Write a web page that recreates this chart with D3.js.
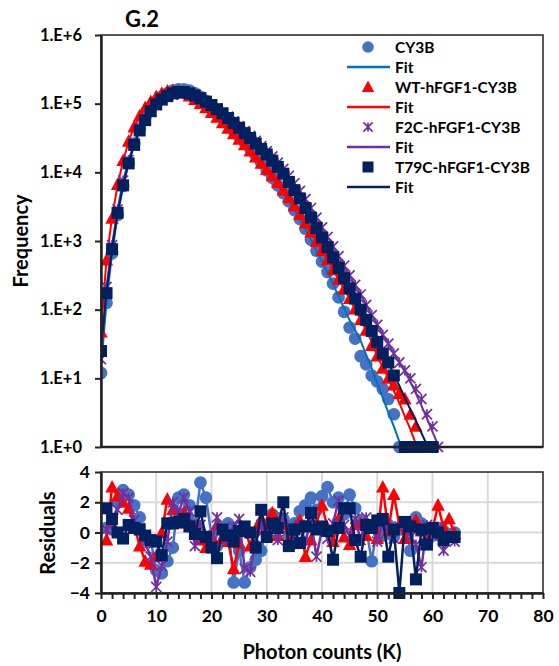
<!DOCTYPE html>
<html>
<head>
<meta charset="utf-8">
<script src="https://cdn.jsdelivr.net/npm/d3@7"></script>
<style>
  body { margin: 0; background: #fff; }
  svg text { font-family: Lato, "Open Sans", sans-serif; font-weight: bold; fill: #000; }
</style>
</head>
<body>
<svg id="chart" width="559" height="666"></svg>
<script>
// histogram counts, one value per 1K photon bin starting at 0
const cy3b = [12,126,661,2400,6310,13800,26300,43650,63100,85100,107200,125900,141300,154900,162200,162200,154900,141300,125900,109600,89100,75900,63100,51300,41700,33900,27500,22400,17800,13800,10700,8320,6460,5010,3800,2820,2090,1510,1050,724,501,355,240,151,93,55,38,21,16,11,9,7,5,3,1];
const wt = [47,525,2140,6610,14790,28180,45710,66070,87100,107200,125900,141300,151400,154900,151400,141300,128800,114800,100000,87100,74130,63100,52480,43650,36310,30200,25120,20420,16600,13490,10960,8910,7080,5500,4270,3240,2450,1820,1350,977,724,525,380,275,200,145,102,71,50,30,21,14,10,8,6,5,3,2];
const f2c = [19,214,871,2880,7590,15100,26900,41700,58900,77600,95500,112200,125900,134900,141300,141300,138000,128800,120200,107200,95500,85100,74100,64600,55000,46800,39800,33900,28800,24000,20400,17000,13800,11200,8910,6920,5370,4070,3020,2190,1580,1150,832,603,437,316,229,166,117,83,60,43,32,23,17,13,10,7,5,3,2,1];
const t79c = [25,174,760,2570,6460,13500,25100,40700,57500,77600,97700,114800,128800,141300,147900,147900,141300,131800,120200,107200,95500,83200,72400,61700,52500,44700,37200,31600,26300,21900,18200,14800,12000,9550,7240,5500,4170,3020,2190,1550,1120,813,575,407,288,204,145,100,71,49,34,23,17,11,0,1,1,1,1,1,1];

// fitted curves
const fitCy3b = [14,130,650,2350,6300,13800,26000,43000,63000,85000,106000,125000,141000,153000,160000,160000,154000,142000,126000,109000,90000,76000,63000,51500,41800,34000,27500,22300,17800,13900,10700,8300,6450,5000,3800,2820,2080,1510,1060,730,500,345,235,155,105,70,50,35,22,14,8.5,5.2,3.2,2.0,1.2,0.76,0.47];
const fitWt = [50,540,2200,6500,14800,28000,45700,66000,87000,107000,125000,141000,151000,155000,151000,141000,129000,115000,100000,87000,74000,63000,52500,43600,36300,30200,25100,20400,16600,13500,11000,8900,7100,5500,4300,3250,2450,1820,1350,980,720,525,380,275,200,143,102,72,50,34,21,14.5,10,6.6,4.4,2.8,1.8,1.1,0.7,0.45];
const fitF2c = [20,220,880,2900,7500,15000,26900,41700,58900,77600,95500,112200,125900,134900,141300,141300,138000,128800,120200,107200,95500,85100,74100,64600,55000,46800,39800,33900,28800,24000,20400,17000,13800,11200,8910,6920,5370,4070,3020,2190,1580,1150,832,603,437,316,229,166,117,83,60,43,32,23,17,12.5,8.9,6.0,4.0,2.6,1.66,1.07,0.68];
const fitT79c = [27,180,770,2550,6400,13500,25000,40700,57500,77600,97700,114800,128800,141300,147900,147900,141300,131800,120200,107200,95500,83200,72400,61700,52500,44700,37200,31600,26300,21900,18200,14800,12000,9550,7240,5500,4170,3020,2190,1550,1120,813,575,407,288,204,145,100,71,49,34,24,17,11.5,7.8,5.2,3.5,2.4,1.6,1.07,0.7,0.47];

// residuals, bins 1..64
const resCy3b = [0.3,0.2,2.0,2.8,2.5,1.8,1.0,-0.4,-0.5,-2.5,-2.7,-1.9,-1.0,2.3,2.5,1.8,0.5,3.3,2.3,-0.2,-0.9,0.2,0.6,-3.3,-1.2,-3.3,-2.3,-1.8,-1.2,0.5,1.2,0.5,0.9,-0.3,0.6,1.4,1.8,2.3,1.5,2.4,3.0,2.0,2.3,1.2,2.5,1.6,0.8,0.3,-1.9,0.4,-0.2,0.5,-0.3,0.2,0.6,-1.2,1.0,0.6,0.2,-0.2,0.3,0.1,-0.1,0.0];
const resWt = [-0.5,3.0,2.4,2.0,1.6,0.5,-0.9,-1.9,-2.1,-1.6,0.0,2.2,1.5,0.6,1.3,0.7,0.4,-0.5,-1.0,-0.3,0.5,-0.4,-0.6,-2.4,-0.7,0.3,-0.9,0.2,0.9,0.4,1.3,-0.2,0.6,-0.5,0.3,0.8,-1.6,-0.5,0.6,1.8,0.3,-0.6,0.9,-0.3,-0.8,0.5,0.6,-0.2,0.3,-0.4,3.0,0.1,2.5,0.5,-0.4,0.6,0.8,0.1,-0.3,0.2,1.8,0.3,0.9,-0.1];
const resF2c = [0.2,0.5,1.5,2.6,2.3,0.8,0.3,-0.7,-1.6,-3.6,-2.2,-0.6,2.0,1.3,2.3,1.4,-0.9,0.5,-0.2,-0.6,1.0,0.2,-0.5,0.4,0.9,-2.4,-2.6,-0.4,0.5,-0.2,0.4,-0.5,1.0,0.3,-0.3,0.5,-0.6,0.8,-1.6,0.2,-0.4,0.6,2.1,0.5,-0.2,0.9,-0.5,1.0,0.3,-0.6,0.6,0.2,-0.4,0.4,0.7,-0.3,-0.8,-2.3,0.5,-0.2,0.3,-1.2,-0.4,-0.6];
const resT79c = [1.6,0.9,0.0,-0.4,0.5,0.3,0.2,-0.2,-0.5,-0.6,-1.5,0.6,0.6,0.7,0.9,0.4,-0.1,1.4,-0.3,-1.0,-1.7,0.2,-0.2,-0.6,0.1,0.4,0.0,-1.0,1.5,-0.3,0.6,0.3,2.0,-0.9,0.2,-0.7,0.4,1.3,0.2,0.4,0.1,-1.8,0.3,1.6,1.6,-0.5,-1.6,0.5,0.3,0.8,0.9,-1.6,0.2,-4.0,0.7,0.4,-3.1,0.2,-0.8,0.3,0.0,-0.5,-0.3,-0.3];

const xTicks = [0, 10, 20, 30, 40, 50, 60, 70, 80];
const freqTicks = [1, 1e1, 1e2, 1e3, 1e4, 1e5, 1e6];
const resTicks = [-4, -2, 0, 2, 4];

const series = [
  { name: 'CY3B', data: cy3b, fit: fitCy3b, res: resCy3b, color: '#4472C4', fitColor: '#0070C0', shape: 'circle' },
  { name: 'WT-hFGF1-CY3B', data: wt, fit: fitWt, res: resWt, color: '#FF0000', fitColor: '#FF0000', shape: 'triangle' },
  { name: 'F2C-hFGF1-CY3B', data: f2c, fit: fitF2c, res: resF2c, color: '#7030A0', fitColor: '#7030A0', shape: 'star' },
  { name: 'T79C-hFGF1-CY3B', data: t79c, fit: fitT79c, res: resT79c, color: '#002060', fitColor: '#002060', shape: 'square' },
];

const svg = d3.select('#chart');
const left = 101, right = 543;
const msize = 12;

let x = d3.scaleLinear().domain([0, 80]).range([left, right]);
let y = d3.scaleLog().domain([1, 1e6]).range([447, 35]);
let yr = d3.scaleLinear().domain([-4, 4]).range([593, 472]);

// marker drawing
function marker(g, shape, color, s) {
  if (shape === 'circle') {
    g.append('circle').attr('r', s * 0.53).attr('fill', color);
  } else if (shape === 'triangle') {
    g.append('path').attr('d', `M0,${-s * 0.6}L${s * 0.56},${s * 0.45}L${-s * 0.56},${s * 0.45}Z`).attr('fill', color);
  } else if (shape === 'square') {
    g.append('rect').attr('x', -s / 2).attr('y', -s / 2).attr('width', s).attr('height', s).attr('fill', color);
  } else {
    let r = s * 0.42;
    g.append('path')
      .attr('d', `M${-r},${-r}L${r},${r}M${-r},${r}L${r},${-r}M0,${-r}L0,${r}`)
      .attr('stroke', color).attr('stroke-width', 1.7).attr('fill', 'none');
  }
}

// clip for top panel
svg.append('defs').append('clipPath').attr('id', 'topclip')
  .append('rect').attr('x', left).attr('y', 30).attr('width', right - left).attr('height', 447 - 30);

/* ******* top panel ******* */
let topPanel = svg.append('g');
topPanel.append('rect').attr('x', left).attr('y', 35).attr('width', right - left).attr('height', 412)
  .attr('fill', 'none').attr('stroke', '#222').attr('stroke-width', 1.5);

let line = d3.line().x((d, i) => x(i)).y(d => y(d));
let body = topPanel.append('g').attr('clip-path', 'url(#topclip)');
series.forEach(s => {
  let pts = s.data.map((v, i) => [i, v]).filter(d => d[1] > 1);
  body.append('g').selectAll('g').data(pts).enter().append('g')
    .attr('transform', d => `translate(${x(d[0])},${y(d[1])})`)
    .each(function () { marker(d3.select(this), s.shape, s.color, msize); });
  body.append('path').datum(s.fit).attr('d', line)
    .attr('fill', 'none').attr('stroke', s.fitColor).attr('stroke-width', 2);
  // points sitting on the axis are drawn unclipped
  let onAxis = s.data.map((v, i) => [i, v]).filter(d => d[1] === 1);
  topPanel.append('g').selectAll('g').data(onAxis).enter().append('g')
    .attr('transform', d => `translate(${x(d[0])},${y(d[1])})`)
    .each(function () { marker(d3.select(this), s.shape, s.color, msize); });
});

let axisY = d3.axisLeft(y).tickValues(freqTicks).tickSizeInner(6).tickSizeOuter(0)
  .tickFormat(d => '1.E+' + Math.round(Math.log10(d)));
topPanel.append('g').attr('transform', `translate(${left},0)`).call(axisY)
  .call(g => g.select('.domain').attr('stroke', '#222').attr('stroke-width', 2.5))
  .call(g => g.selectAll('.tick line').attr('stroke', '#222').attr('stroke-width', 2))
  .call(g => g.selectAll('.tick text').attr('x', -19).attr('font-size', 16.5).attr('fill', '#000')
    .style('font-family', 'Lato').style('font-weight', 'bold'));
topPanel.append('line').attr('x1', left).attr('x2', right).attr('y1', 447).attr('y2', 447)
  .attr('stroke', '#222').attr('stroke-width', 2.5);

/* ******* residual panel ******* */
let bot = svg.append('g');
bot.append('g').selectAll('line.gy').data([-2, 0, 2]).enter().append('line')
  .attr('x1', left).attr('x2', right).attr('y1', d => yr(d)).attr('y2', d => yr(d))
  .attr('stroke', '#d9d9d9').attr('stroke-width', 2);
bot.append('g').selectAll('line.gx').data(xTicks.slice(1, -1)).enter().append('line')
  .attr('x1', d => x(d)).attr('x2', d => x(d)).attr('y1', 472).attr('y2', 593)
  .attr('stroke', '#d9d9d9').attr('stroke-width', 2);
bot.append('rect').attr('x', left).attr('y', 472).attr('width', right - left).attr('height', 121)
  .attr('fill', 'none').attr('stroke', '#222').attr('stroke-width', 1.5);

let rline = d3.line().x((d, i) => x(i + 1)).y(d => yr(d));
series.forEach(s => {
  bot.append('path').datum(s.res).attr('d', rline)
    .attr('fill', 'none').attr('stroke', s.color).attr('stroke-width', 2.5);
  bot.append('g').selectAll('g').data(s.res).enter().append('g')
    .attr('transform', (d, i) => `translate(${x(i + 1)},${yr(d)})`)
    .each(function () { marker(d3.select(this), s.shape, s.color, msize); });
});

let axisR = d3.axisLeft(yr).tickValues(resTicks).tickSizeInner(6).tickSizeOuter(0);
bot.append('g').attr('transform', `translate(${left},0)`).call(axisR)
  .call(g => g.select('.domain').attr('stroke', '#222').attr('stroke-width', 2.5))
  .call(g => g.selectAll('.tick line').attr('stroke', '#222').attr('stroke-width', 2))
  .call(g => g.selectAll('.tick text').attr('x', -11).attr('font-size', 17.5).attr('fill', '#000')
    .style('font-family', 'Lato').style('font-weight', 'bold'));

let axisX = d3.axisBottom(x).tickValues(d3.range(0, 81, 2)).tickSizeInner(6).tickSizeOuter(0)
  .tickFormat(d => xTicks.includes(d) ? d : '');
bot.append('g').attr('transform', 'translate(0,593)').call(axisX)
  .call(g => g.select('.domain').attr('stroke', '#222').attr('stroke-width', 2.5))
  .call(g => g.selectAll('.tick line').attr('stroke', '#222').attr('stroke-width', 2))
  .call(g => g.selectAll('.tick text').attr('y', 17).attr('font-size', 17.5).attr('fill', '#000')
    .style('font-family', 'Lato').style('font-weight', 'bold'));

/* ******* texts ******* */
svg.append('text').attr('x', 125).attr('y', 27).attr('font-size', 22).text('G.2');
svg.append('text').attr('transform', 'translate(28,241) rotate(-90)').attr('text-anchor', 'middle')
  .attr('font-size', 20).text('Frequency');
svg.append('text').attr('transform', 'translate(55,533) rotate(-90)').attr('text-anchor', 'middle')
  .attr('font-size', 20).text('Residuals');
svg.append('text').attr('x', 322).attr('y', 659).attr('text-anchor', 'middle')
  .attr('font-size', 20).text('Photon counts (K)');

// legend
let leg = svg.append('g');
series.forEach((s, i) => {
  let yy = 47 + i * 40;
  let g = leg.append('g').attr('transform', `translate(368,${yy})`);
  marker(g, s.shape, s.color, 11);
  leg.append('text').attr('x', 395).attr('y', yy + 5.5).attr('font-size', 15.5).text(s.name);
  leg.append('line').attr('x1', 347).attr('x2', 390).attr('y1', yy + 20).attr('y2', yy + 20)
    .attr('stroke', s.fitColor).attr('stroke-width', 2.5);
  leg.append('text').attr('x', 395).attr('y', yy + 25.5).attr('font-size', 15.5).text('Fit');
});
</script>
</body>
</html>
